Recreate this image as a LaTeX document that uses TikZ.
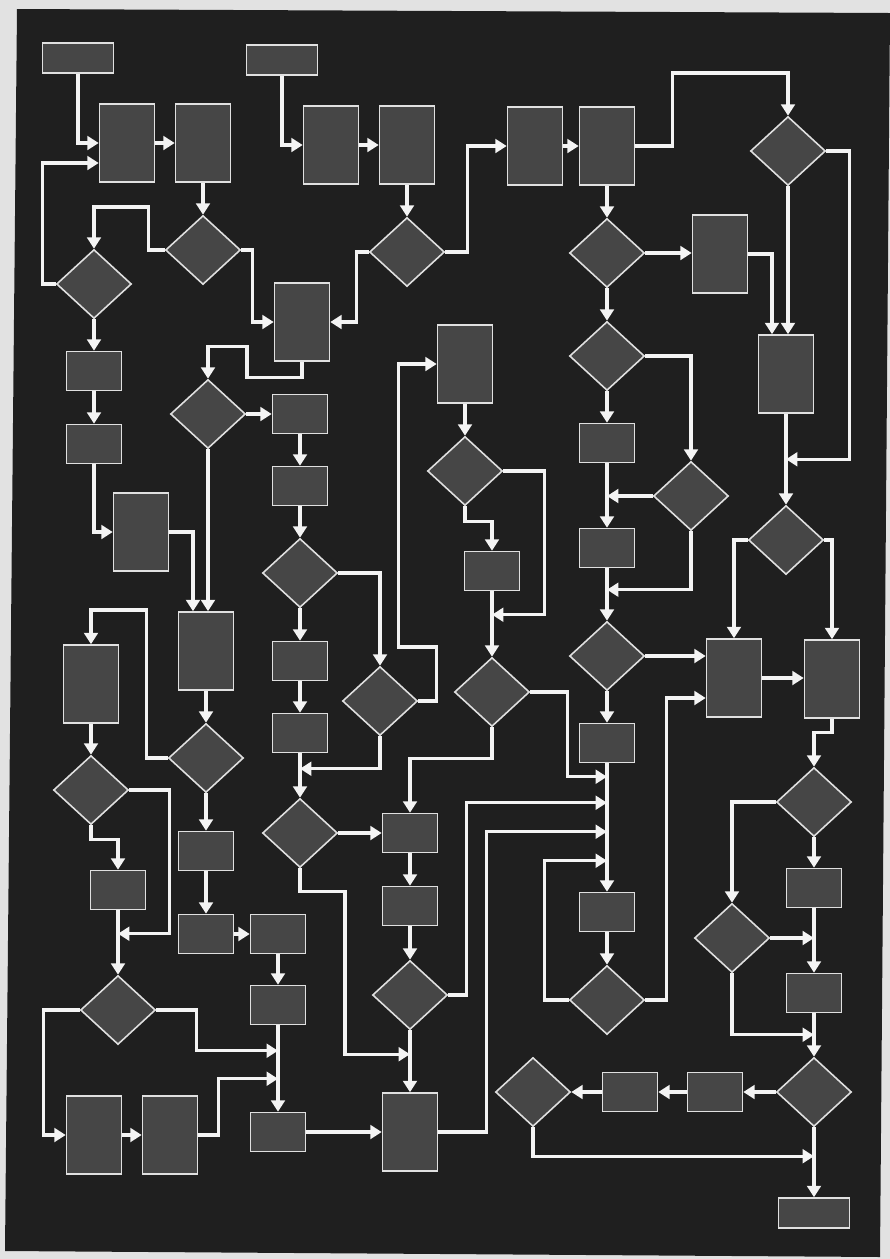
\documentclass[tikz,border=0pt]{standalone}
\usetikzlibrary{shapes.geometric,arrows.meta,calc}
\definecolor{pagegray}{HTML}{E2E2E2}
\definecolor{boardgray}{HTML}{1F1F1F}
\definecolor{boxgray}{HTML}{464646}
\definecolor{rimgray}{HTML}{E0E0E0}
\definecolor{flowgray}{HTML}{F4F4F4}
\begin{document}
\begin{tikzpicture}[x=.02cm,y=-.02cm,
  blk/.style={draw=rimgray,fill=boxgray,line width=.9pt,inner sep=0pt},
  tallbox/.style={blk,minimum width=1.1cm,minimum height=1.56cm},
  smallbox/.style={blk,minimum width=1.1cm,minimum height=.78cm},
  widebox/.style={blk,minimum width=1.42cm,minimum height=.6cm},
  test/.style={blk,diamond,minimum width=1.5cm,minimum height=1.38cm},
  flow/.style={draw=flowgray,line width=1.9pt,-{Triangle[length=6.5pt,width=7.8pt]}}]
\useasboundingbox (0,0) rectangle (890,1259);
\fill[pagegray] (0,0) rectangle (890,1259);
\fill[boardgray] (17,9) -- (890,13) -- (880,1257) -- (5,1251) -- cycle;
\node[widebox] (s1) at (78,58) {};
\node[widebox] (s2) at (282,60) {};
\node[tallbox] (a1) at (127,143) {};
\node[tallbox] (a2) at (203,143) {};
\node[tallbox] (b1) at (331,145) {};
\node[tallbox] (b2) at (407,145) {};
\node[tallbox] (c1) at (535,146) {};
\node[tallbox] (c2) at (607,146) {};
\node[test] (q1) at (203,250) {};
\node[test] (q2) at (94,284) {};
\node[test] (q3) at (407,252) {};
\node[test] (q4) at (788,151) {};
\node[test] (q5) at (607,253) {};
\node[tallbox] (c3) at (720,254) {};
\node[tallbox] (a3) at (302,322) {};
\node[smallbox] (r9) at (94,371) {};
\node[smallbox] (r10) at (94,444) {};
\node[tallbox] (a4) at (141,532) {};
\node[test] (q17) at (208,414) {};
\node[smallbox] (r11) at (300,414) {};
\node[smallbox] (r12) at (300,486) {};
\node[test] (q18) at (300,573) {};
\node[test] (q19) at (380,701) {};
\node[tallbox] (c7) at (465,364) {};
\node[test] (q24) at (465,471) {};
\node[smallbox] (r23) at (492,571) {};
\node[test] (q12) at (492,692) {};
\node[tallbox] (c4) at (786,374) {};
\node[test] (q6) at (786,540) {};
\node[test] (q7) at (607,356) {};
\node[test] (q8) at (691,496) {};
\node[smallbox] (r1) at (607,443) {};
\node[smallbox] (r2) at (607,548) {};
\node[test] (q9) at (607,656) {};
\node[tallbox] (c5) at (734,678) {};
\node[tallbox] (c6) at (832,679) {};
\node[smallbox] (r3) at (607,743) {};
\node[smallbox] (r4) at (607,912) {};
\node[test] (q10) at (607,1000) {};
\node[test] (q13) at (814,802) {};
\node[test] (q14) at (732,938) {};
\node[smallbox] (r5) at (814,888) {};
\node[smallbox] (r6) at (814,993) {};
\node[test] (q15) at (814,1092) {};
\node[smallbox] (r7) at (715,1092) {};
\node[smallbox] (r8) at (630,1092) {};
\node[test] (q16) at (533,1092) {};
\node[widebox] (e1) at (814,1213) {};
\node[tallbox] (a5) at (206,651) {};
\node[tallbox] (a6) at (91,684) {};
\node[test] (q21) at (206,758) {};
\node[test] (q22) at (91,790) {};
\node[smallbox] (r17) at (118,890) {};
\node[test] (q23) at (118,1010) {};
\node[smallbox] (r18) at (206,851) {};
\node[smallbox] (r19) at (206,934) {};
\node[smallbox] (r20) at (278,934) {};
\node[smallbox] (r21) at (278,1005) {};
\node[smallbox] (r22) at (278,1132) {};
\node[tallbox] (a7) at (94,1135) {};
\node[tallbox] (a8) at (170,1135) {};
\node[smallbox] (r13) at (300,661) {};
\node[smallbox] (r14) at (300,733) {};
\node[test] (q20) at (300,833) {};
\node[smallbox] (r15) at (410,833) {};
\node[smallbox] (r16) at (410,906) {};
\node[test] (q11) at (410,995) {};
\node[tallbox] (a9) at (410,1132) {};
\draw[flow] (s1.south) |- (a1.west);
\draw[flow] (q2.west) -- ++(-13,0) |- ($(a1.west)+(0,20)$);
\draw[flow] (a1.east) -- (a2.west);
\draw[flow] (a2.south) -- (q1.north);
\draw[flow] (q1.west) -- ++(-16,0) -- ++(0,-43) -| (q2.north);
\draw[flow] (q1.east) -- ++(11,0) |- (a3.west);
\draw[flow] (s2.south) |- (b1.west);
\draw[flow] (b1.east) -- (b2.west);
\draw[flow] (b2.south) -- (q3.north);
\draw[flow] (q3.west) -- ++(-12,0) |- (a3.east);
\draw[flow] (q3.east) -- ++(22,0) |- (c1.west);
\draw[flow] (c1.east) -- (c2.west);
\draw[flow] (c2.east) -- ++(37,0) -- ++(0,-73) -| (q4.north);
\draw[flow] (c2.south) -- (q5.north);
\draw[flow] (q5.east) -- (q5.east -| c3.west);
\draw[flow] (c3.east) -| ($(c4.north)+(-14,0)$);
\draw[flow] (q4.south) -- (q4.south |- c4.north);
\draw[flow] (q4.east) -- ++(23,0) |- ($(c4.south)!.5!(q6.north)$);
\draw[flow] (c4.south) -- (q6.north);
\draw[flow] (q5.south) -- (q7.north);
\draw[flow] (q7.east) -| (q8.north);
\draw[flow] (q7.south) -- (r1.north);
\draw[flow] (r1.south) -- (r2.north);
\draw[flow] (q8.west) -- (q8.west -| r1.south);
\draw[flow] (q8.south) |- ($(q9.north)+(0,-31)$);
\draw[flow] (r2.south) -- (q9.north);
\draw[flow] (q6.west) -| (c5.north);
\draw[flow] (q6.east) -| (c6.north);
\draw[flow] (q9.east) -- (q9.east -| c5.west);
\draw[flow] (c5.east) -- (c5.east -| c6.west);
\draw[flow] (q10.east) -- ++(21,0) |- ($(c5.west)+(0,20)$);
\draw[flow] (q9.south) -- (r3.north);
\draw[flow] (r3.south) -- (r4.north);
\draw[flow] (q12.east) -- ++(37,0) |- ($(r4.north)+(0,-115)$);
\draw[flow] (q11.east) -- ++(18,0) |- ($(r4.north)+(0,-89)$);
\draw[flow] (a9.east) -- ++(48,0) |- ($(r4.north)+(0,-60)$);
\draw[flow] (q10.west) -- ++(-24,0) |- ($(r4.north)+(0,-31)$);
\draw[flow] (r4.south) -- (q10.north);
\draw[flow] (c6.south) -- ++(0,14) -| (q13.north);
\draw[flow] (q13.west) -| (q14.north);
\draw[flow] (q13.south) -- (r5.north);
\draw[flow] (q14.east) -- (q14.east -| r5.south);
\draw[flow] (r5.south) -- (r6.north);
\draw[flow] (q14.south) |- ($(q15.north)+(0,-22)$);
\draw[flow] (r6.south) -- (q15.north);
\draw[flow] (q15.west) -- (r7.east);
\draw[flow] (r7.west) -- (r8.east);
\draw[flow] (r8.west) -- (q16.east);
\draw[flow] (q16.south) |- ($(e1.north)+(0,-41)$);
\draw[flow] (q15.south) -- (e1.north);
\draw[flow] (q2.south) -- (r9.north);
\draw[flow] (r9.south) -- (r10.north);
\draw[flow] (r10.south) |- (a4.west);
\draw[flow] (a4.east) -| ($(a5.north)+(-13,0)$);
\draw[flow] (a3.south) -- ++(0,16) -- ++(-55,0) -- ++(0,-31) -| (q17.north);
\draw[flow] (q17.east) -- (q17.east -| r11.west);
\draw[flow] (q17.south) -- (q17.south |- a5.north);
\draw[flow] (r11.south) -- (r12.north);
\draw[flow] (r12.south) -- (q18.north);
\draw[flow] (q18.east) -| (q19.north);
\draw[flow] (q19.east) -- ++(18,0) -- ++(0,-54) -- ++(-38,0) |- (c7.west);
\draw[flow] (q19.south) |- ($(q20.north)+(0,-29)$);
\draw[flow] (q18.south) -- (r13.north);
\draw[flow] (r13.south) -- (r14.north);
\draw[flow] (r14.south) -- (q20.north);
\draw[flow] (q20.east) -- (q20.east -| r15.west);
\draw[flow] (q20.south) -- ++(0,23) -- ++(45,0) |- ($(a9.north)+(0,-38)$);
\draw[flow] (r15.south) -- (r16.north);
\draw[flow] (r16.south) -- (q11.north);
\draw[flow] (q11.south) -- (a9.north);
\draw[flow] (c7.south) -- (q24.north);
\draw[flow] (q24.east) -- ++(41,0) |- ($(q12.north)+(0,-42)$);
\draw[flow] (q24.south) -- ++(0,15) -| (r23.north);
\draw[flow] (r23.south) -- (q12.north);
\draw[flow] (q12.south) -- ++(0,31) -| (r15.north);
\draw[flow] (a5.south) -- (q21.north);
\draw[flow] (q21.west) -- ++(-21,0) -- ++(0,-148) -| (a6.north);
\draw[flow] (a6.south) -- (q22.north);
\draw[flow] (q22.east) -- ++(40,0) |- ($(q23.north)+(0,-41)$);
\draw[flow] (q22.south) -- ++(0,14) -| (r17.north);
\draw[flow] (r17.south) -- (q23.north);
\draw[flow] (q21.south) -- (r18.north);
\draw[flow] (r18.south) -- (r19.north);
\draw[flow] (r19.east) -- (r19.east -| r20.west);
\draw[flow] (r20.south) -- (r21.north);
\draw[flow] (r21.south) -- (r22.north);
\draw[flow] (q23.east) -- ++(40,0) |- ($(r22.north)+(0,-61)$);
\draw[flow] (q23.west) -- ++(-36,0) |- (a7.west);
\draw[flow] (a7.east) -- (a8.west);
\draw[flow] (a8.east) -- ++(20,0) |- ($(r22.north)+(0,-33)$);
\draw[flow] (r22.east) -- (r22.east -| a9.west);
\end{tikzpicture}
\end{document}
